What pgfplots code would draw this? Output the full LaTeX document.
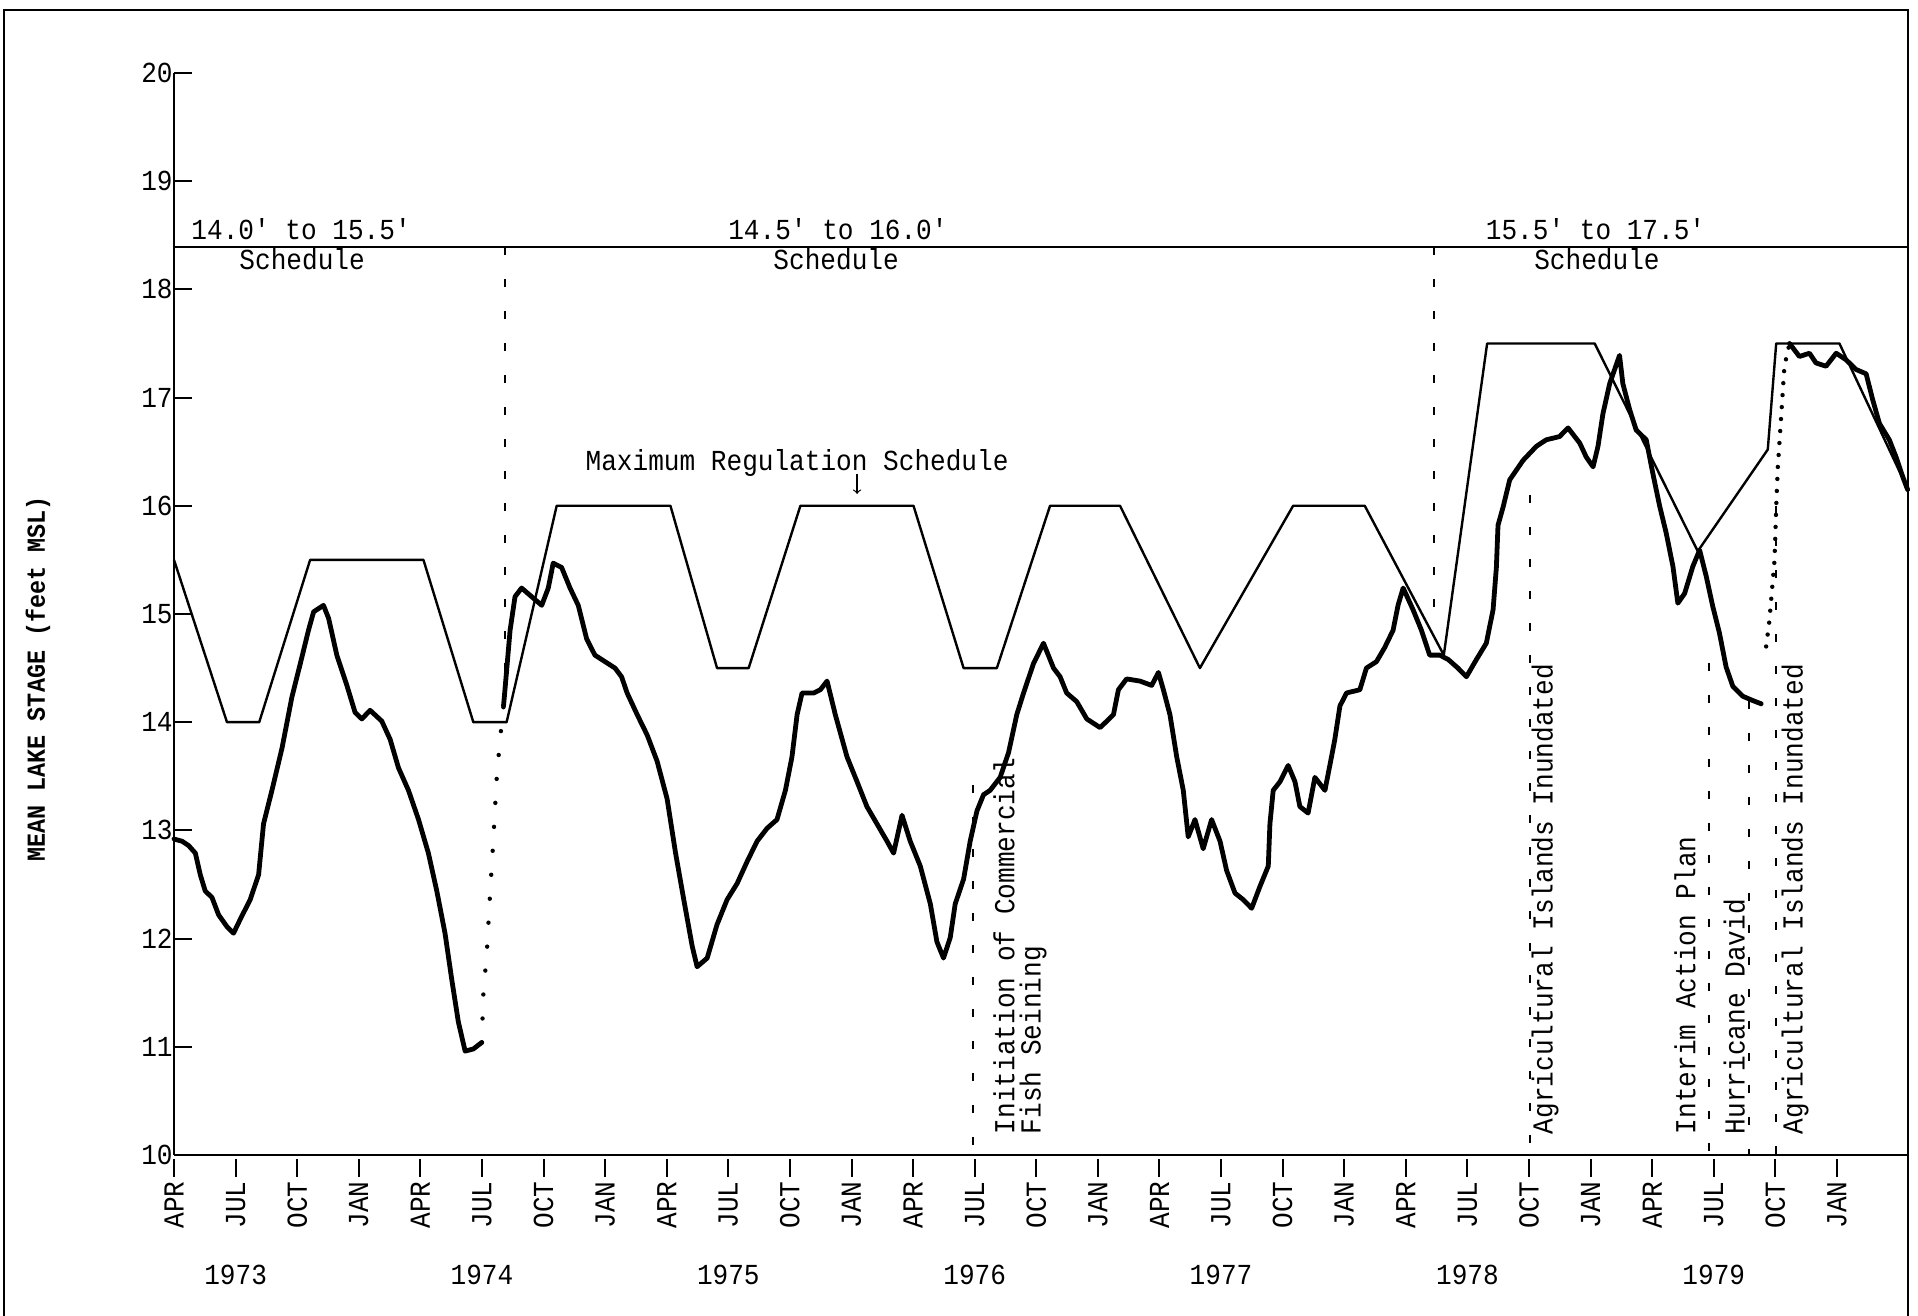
\documentclass[border=0pt]{standalone}
\usepackage{fontspec}
\newfontfamily\chartfont{Liberation Mono}[FakeStretch=0.9]
\usepackage{pgfplots}
\pgfplotsset{compat=1.18}

\begin{document}
\begin{tikzpicture}[font=\chartfont\fontsize{14.5}{17}\selectfont]
\begin{axis}[
  scale only axis, width=867pt, height=541pt,
  xmin=0, xmax=84.46, ymin=10, ymax=20,
  axis lines=left,
  axis line style={-, line width=1.1pt},
  clip=false,
  xtick={0,3,...,81},
  xticklabels={APR,JUL,OCT,JAN,APR,JUL,OCT,JAN,APR,JUL,OCT,JAN,APR,JUL,OCT,JAN,APR,JUL,OCT,JAN,APR,JUL,OCT,JAN,APR,JUL,OCT,JAN},
  ytick={10,...,20},
  tick align=inside,
  major tick length=9pt,
  every tick/.append style={line width=1pt, black},
  every x tick/.append style={yshift=-11pt},
  x tick label style={rotate=90, anchor=east, inner sep=1pt, font=\chartfont\fontsize{14.5}{17}\selectfont},
  xticklabel shift=12pt,
  y tick label style={anchor=east, inner xsep=0.5pt, font=\chartfont\fontsize{14.5}{17}\selectfont},
  /pgf/number format/assume math mode=true,
  ylabel={MEAN LAKE STAGE (feet MSL)},
  ylabel style={at={(axis description cs:-0.0784,0.44)}, anchor=center,
                font=\chartfont\bfseries\fontsize{13}{15}\selectfont},
]

% maximum regulation schedule
\addplot[black, line width=1.2pt, line join=round] coordinates {
(0,15.5) (2.58,14.0) (4.15,14.0) (6.63,15.5) (12.15,15.5) (14.58,14.0) (16.2,14.0)
(18.64,16.0) (24.18,16.0) (26.45,14.5) (27.99,14.5) (30.51,16.0) (36.02,16.0)
(38.46,14.5) (40.08,14.5) (42.67,16.0) (46.08,16.0) (49.97,14.5) (54.51,16.0)
(58.0,16.0) (61.85,14.62) (63.96,17.5) (69.2,17.5) (74.22,15.58) (77.63,16.52)
(78.04,17.5) (81.12,17.5) (84.46,16.15)
};

% schedule band boundary
\addplot[black, line width=1.1pt] coordinates {(0,18.39) (84.46,18.39)};

% mean lake stage, 1973-1974
\addplot[black, line width=2.4pt, line join=round, line cap=round] coordinates {
(0,12.92) (0.39,12.90) (0.71,12.86) (1.04,12.79) (1.28,12.59) (1.52,12.44) (1.85,12.38)
(2.17,12.22) (2.58,12.11) (2.90,12.05) (3.23,12.18) (3.71,12.36) (4.12,12.59) (4.36,13.06)
(4.77,13.37) (5.26,13.76) (5.74,14.23) (6.15,14.54) (6.55,14.85) (6.80,15.02) (7.28,15.08)
(7.53,14.96) (7.93,14.62) (8.42,14.34) (8.82,14.09) (9.15,14.03) (9.55,14.11) (10.12,14.01)
(10.53,13.84) (10.93,13.58) (11.42,13.37) (11.91,13.10) (12.39,12.79) (12.8,12.44)
(13.2,12.05) (13.53,11.62) (13.85,11.23) (14.18,10.96) (14.58,10.98) (14.99,11.04)
};
% rapid rise, summer 1974
\addplot[black, line width=2.2pt, line cap=round, dash pattern=on 0pt off 12pt] coordinates {
(14.99,11.04) (15.07,11.50) (15.23,11.85) (15.39,12.40) (15.55,12.90) (15.72,13.49)
(15.88,13.84) (16.05,14.15)
};
% 1974-1979
\addplot[black, line width=2.4pt, line join=round, line cap=round] coordinates {
(16.05,14.15) (16.12,14.30) (16.37,14.85) (16.61,15.16) (16.93,15.24) (17.42,15.16)
(17.91,15.08) (18.23,15.24) (18.47,15.47) (18.88,15.43) (19.29,15.24) (19.69,15.08)
(20.10,14.77) (20.5,14.62) (20.99,14.56) (21.48,14.50) (21.8,14.42) (22.07,14.27)
(22.56,14.07) (23.05,13.88) (23.53,13.64) (24.02,13.29) (24.43,12.79) (24.83,12.36)
(25.24,11.93) (25.48,11.74) (25.97,11.82) (26.45,12.13) (26.94,12.36) (27.43,12.51)
(27.91,12.71) (28.4,12.90) (28.89,13.02) (29.37,13.10) (29.78,13.37) (30.1,13.68)
(30.35,14.07) (30.59,14.27) (31.16,14.27) (31.48,14.30) (31.81,14.38) (32.21,14.07)
(32.78,13.68) (33.27,13.45) (33.75,13.22) (34.24,13.06) (34.73,12.90) (35.05,12.79)
(35.46,13.14) (35.86,12.90) (36.35,12.67) (36.84,12.32) (37.16,11.97) (37.48,11.82)
(37.81,12.01) (38.05,12.32) (38.46,12.55) (38.78,12.90) (39.11,13.18) (39.43,13.33)
(39.75,13.37) (40.24,13.49) (40.65,13.72) (41.05,14.07) (41.38,14.27) (41.86,14.54)
(42.35,14.73) (42.84,14.50) (43.16,14.42) (43.48,14.27) (43.97,14.19) (44.46,14.03)
(45.11,13.95) (45.76,14.07) (46.0,14.30) (46.4,14.40) (47.05,14.38) (47.62,14.34)
(47.95,14.46) (48.19,14.30) (48.51,14.07) (48.84,13.68) (49.16,13.37) (49.4,12.94)
(49.73,13.10) (50.13,12.83) (50.54,13.10) (50.95,12.90) (51.27,12.63) (51.68,12.42)
(52.08,12.36) (52.49,12.28) (52.89,12.48) (53.3,12.67) (53.38,13.06) (53.54,13.37)
(53.87,13.45) (54.27,13.60) (54.6,13.45) (54.84,13.22) (55.24,13.16) (55.57,13.49)
(56.06,13.37) (56.38,13.68) (56.54,13.84) (56.79,14.15) (57.11,14.27) (57.76,14.30)
(58.08,14.50) (58.57,14.56) (58.97,14.69) (59.38,14.85) (59.62,15.08) (59.87,15.24)
(60.35,15.04) (60.76,14.85) (61.16,14.62) (61.65,14.62) (62.06,14.58) (62.54,14.50)
(62.95,14.42) (63.44,14.58) (63.92,14.73) (64.25,15.04) (64.41,15.43) (64.49,15.82)
(64.74,15.99) (65.06,16.24) (65.71,16.42) (66.36,16.55) (66.84,16.61) (67.49,16.64)
(67.9,16.72) (68.47,16.58) (68.79,16.45) (69.12,16.36) (69.36,16.55) (69.6,16.85)
(69.93,17.13) (70.41,17.39) (70.57,17.13) (70.9,16.89) (71.22,16.70) (71.71,16.61)
(72.03,16.30) (72.36,16.00) (72.68,15.75) (73.01,15.44) (73.25,15.10) (73.58,15.19)
(73.98,15.44) (74.31,15.59) (74.63,15.35) (74.95,15.07) (75.28,14.82) (75.6,14.51)
(75.93,14.33) (76.41,14.24) (76.9,14.20) (77.31,14.17)
};
% rapid rise, autumn 1979
\addplot[black, line width=2.2pt, line cap=round, dash pattern=on 0pt off 6pt] coordinates {
(77.55,14.70) (77.71,14.94) (77.96,15.50) (78.04,15.99) (78.12,16.36) (78.28,16.82)
(78.44,17.29) (78.69,17.50)
};
\addplot[black, line width=2.4pt, line join=round, line cap=round] coordinates {
(78.69,17.50) (79.17,17.38) (79.66,17.41) (79.98,17.32) (80.47,17.29) (80.96,17.41)
(81.44,17.35) (81.93,17.26) (82.42,17.22) (82.74,16.98) (83.07,16.76) (83.55,16.61)
(83.88,16.45) (84.2,16.27) (84.44,16.15)
};

% schedule changes and events
\addplot[black, line width=1pt, dash pattern=on 4pt off 12pt] coordinates {(16.1,18.39) (16.1,14.4)};
\addplot[black, line width=1pt, dash pattern=on 4pt off 12pt] coordinates {(61.36,18.39) (61.36,14.9)};
\addplot[black, line width=1pt, dash pattern=on 4pt off 12pt] coordinates {(38.9,13.42) (38.9,10)};
\addplot[black, line width=1pt, dash pattern=on 4pt off 12pt] coordinates {(66.03,16.1) (66.03,10)};
\addplot[black, line width=1pt, dash pattern=on 4pt off 12pt] coordinates {(74.76,14.55) (74.76,10)};
\addplot[black, line width=1pt, dash pattern=on 4pt off 12pt] coordinates {(76.71,14.2) (76.71,10)};
\addplot[black, line width=1pt, dash pattern=on 4pt off 12pt] coordinates {(78.04,16.0) (78.04,10)};

% schedule band captions
\node[anchor=base] at (axis cs:6.19,18.46) {14.0' to 15.5'};
\node[anchor=base] at (axis cs:6.24,18.18) {Schedule};
\node[anchor=base] at (axis cs:32.34,18.46) {14.5' to 16.0'};
\node[anchor=base] at (axis cs:32.25,18.18) {Schedule};
\node[anchor=base] at (axis cs:69.24,18.46) {15.5' to 17.5'};
\node[anchor=base] at (axis cs:69.31,18.18) {Schedule};

\node[anchor=base] at (axis cs:30.35,16.33) {Maximum Regulation Schedule};
\draw[->, line width=0.6pt] (axis cs:33.27,16.29) -- (axis cs:33.27,16.11);

% event captions
\node[rotate=90, anchor=west, inner sep=0pt] at (axis cs:40.43,10.19) {Initiation of Commercial};
\node[rotate=90, anchor=west, inner sep=0pt] at (axis cs:41.84,10.19) {Fish Seining};
\node[rotate=90, anchor=west, inner sep=0pt] at (axis cs:66.78,10.19) {Agricultural Islands Inundated};
\node[rotate=90, anchor=west, inner sep=0pt] at (axis cs:73.6,10.19) {Interim  Action Plan};
\node[rotate=90, anchor=west, inner sep=0pt] at (axis cs:76.0,10.19) {Hurricane David};
\node[rotate=90, anchor=west, inner sep=0pt] at (axis cs:78.96,10.19) {Agricultural Islands Inundated};

% years
\node at (axis cs:3,8.89) {1973};
\node at (axis cs:15,8.89) {1974};
\node at (axis cs:27,8.89) {1975};
\node at (axis cs:39,8.89) {1976};
\node at (axis cs:51,8.89) {1977};
\node at (axis cs:63,8.89) {1978};
\node at (axis cs:75,8.89) {1979};

% page frame
\draw[line width=1pt] (rel axis cs:-0.098,-0.1488) -- (rel axis cs:-0.098,1.0582)
  -- (rel axis cs:1.0,1.0582) -- (rel axis cs:1.0,-0.1488);
\coordinate (bbSW) at (rel axis cs:-0.10035,-0.1488);
\coordinate (bbNE) at (rel axis cs:1.00577,1.06747);
\end{axis}
\pgfresetboundingbox
\path (bbSW) rectangle (bbNE);
\end{tikzpicture}
\end{document}
